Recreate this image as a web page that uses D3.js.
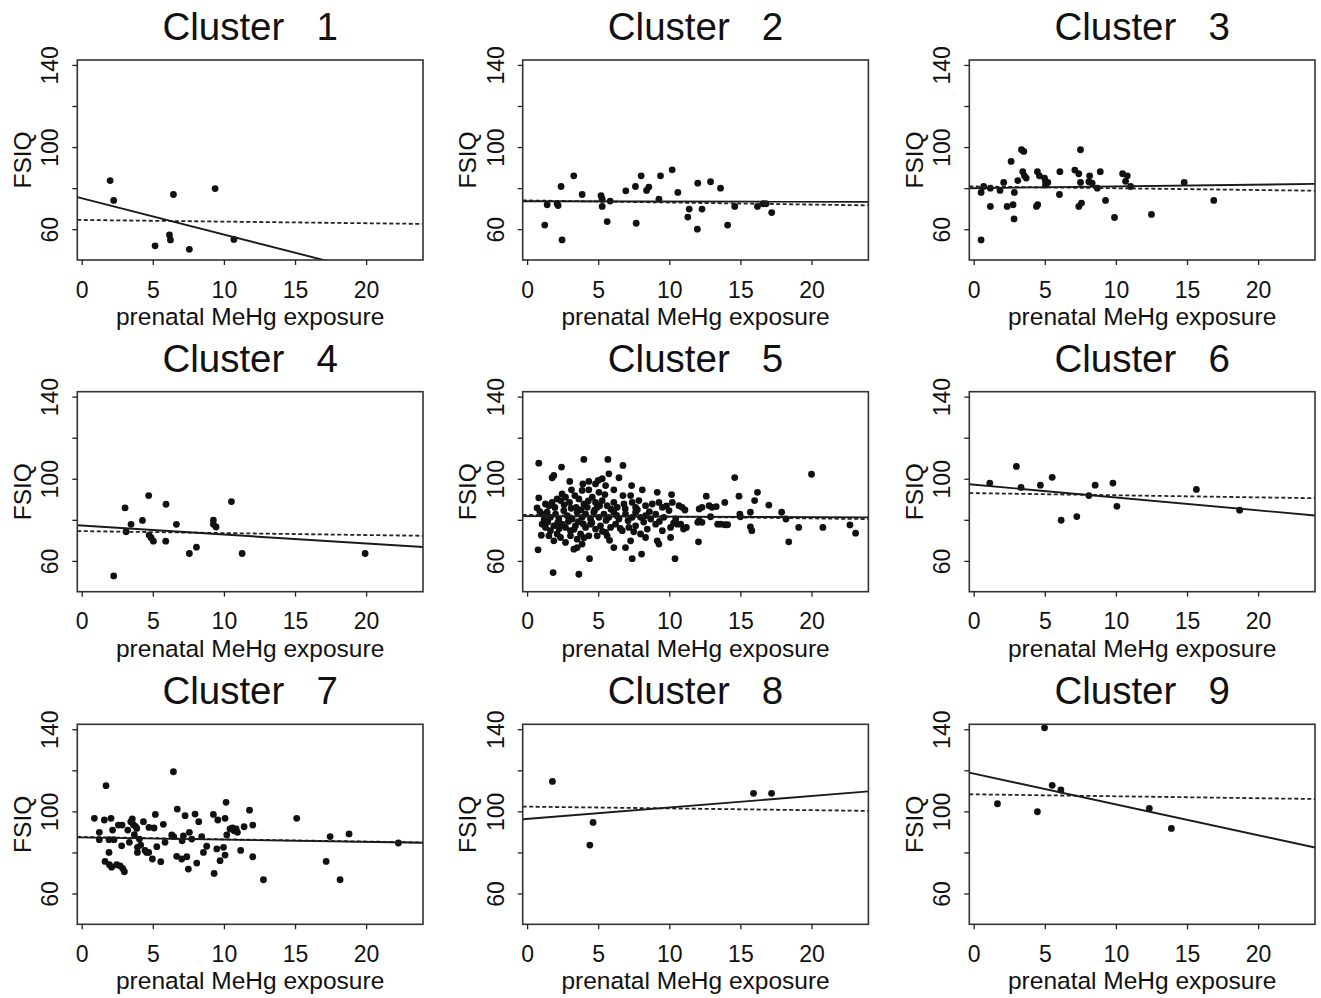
<!DOCTYPE html>
<html>
<head>
<meta charset="utf-8">
<script src="https://cdn.jsdelivr.net/npm/d3@7"></script>
<style>
	body { margin: 0; background: #fff; }
	svg text { font-family: "Liberation Sans", Arial, sans-serif; fill: #111; }
</style>
</head>
<body>
<div id="chart"></div>
<script>

const clusterIds = [1, 2, 3, 4, 5, 6, 7, 8, 9];
const xTicks = [0, 5, 10, 15, 20];
const yTicks = [60, 80, 100, 120, 140];
const yTickLabels = ["60", "", "100", "", "140"]; // R drops 80 and 120, they would overlap
const xTitle = "prenatal MeHg exposure";
const yTitle = "FSIQ";

// [MeHg, FSIQ]
const cluster1 = [[2.0,83.7],[2.25,74.0],[6.45,76.9],[9.38,79.8],[6.17,57.2],[6.24,54.8],[5.16,51.9],[7.57,50.2],[10.7,55.0]];

const cluster2 = [[1.24,62.0],[1.41,71.9],[2.11,72.4],[2.18,71.5],[2.39,80.8],[2.46,54.8],[3.28,86.0],[3.87,76.9],[5.2,76.3],[5.28,74.6],
	[5.28,71.1],[5.63,63.7],[5.84,73.7],[6.94,78.7],[7.62,80.8],[7.67,62.9],[8.02,86.0],[8.4,78.9],[8.56,80.5],[9.27,74.6],
	[9.38,86.0],[10.2,88.9],[10.6,77.9],[11.4,69.8],[11.3,65.9],[12.0,82.4],[11.97,60.0],[12.3,69.8],[12.9,83.1],[13.6,80.0],
	[14.1,62.0],[14.6,71.1],[16.2,71.1],[16.6,72.4],[16.8,72.4],[17.2,68.1]];

const cluster3 = [[0.52,54.8],[0.52,77.9],[0.7,80.8],[1.17,80.0],[1.17,71.1],[1.85,78.9],[2.11,82.8],[2.35,71.1],[2.63,93.0],[2.77,71.9],
	[2.86,77.9],[2.84,65.0],[3.1,83.7],[3.36,98.7],[3.52,97.9],[3.45,88.0],[3.57,86.0],[3.69,84.9],[4.41,71.1],[4.5,71.9],
	[4.48,88.0],[4.62,86.0],[4.98,84.9],[5.05,83.3],[5.05,81.5],[5.21,82.8],[6.03,76.9],[6.06,88.0],[7.11,88.8],[7.39,87.0],
	[7.51,98.7],[7.51,82.8],[7.39,71.1],[7.58,72.7],[8.15,86.0],[8.1,83.1],[8.33,82.4],[8.69,80.0],[8.9,88.0],[9.27,74.0],
	[9.9,65.7],[10.47,87.0],[10.8,86.0],[10.68,83.3],[11.03,80.8],[12.5,67.2],[14.8,82.8],[16.88,74.0]];

const cluster4 = [[2.25,52.7],[3.05,85.8],[3.12,74.2],[3.47,77.8],[4.27,79.7],[4.71,91.8],[4.74,72.6],[4.88,71.3],[5.04,69.6],[5.93,87.6],
	[5.91,69.6],[6.66,77.8],[7.57,63.6],[8.07,66.7],[9.26,79.9],[9.26,77.8],[9.45,76.5],[10.53,88.9],[11.28,63.6],[19.93,63.6]];

const cluster5 = [[0.82,107.6],[2.42,105.7],[3.99,109.4],[5.68,109.4],[6.74,106.5],
	[1.76,100.5],[1.88,101.6],[3.0,98.7],[3.92,97.5],[4.34,98.7],[4.81,97.5],[5.0,99.2],[5.28,100.0],[5.75,102.4],[6.46,100.5],
	[0.82,90.7],[2.46,92.6],[3.12,94.6],[3.36,91.8],[3.87,94.3],[4.34,94.6],[5.05,93.4],[5.52,96.7],[5.47,92.3],[6.1,94.6],
	[6.74,91.8],[7.35,96.7],[8.1,94.6],[9.15,93.4],[10.16,92.3],[7.28,91.8],
	[0.7,85.8],[1.29,87.7],[1.53,86.9],[1.76,88.5],[2.11,90.2],[2.35,89.4],[2.7,91.0],[2.98,88.5],[3.64,90.2],[3.45,86.1],
	[3.99,87.7],[4.23,86.1],[4.58,91.0],[4.81,88.5],[4.93,86.1],[5.28,89.4],[5.63,86.9],[6.1,88.5],[6.34,86.1],[6.81,87.7],
	[7.39,88.5],[7.63,86.1],[7.86,89.4],[8.33,86.9],[8.8,87.7],[9.27,88.5],[9.51,86.1],[10.21,88.5],[10.68,86.9],
	[1.06,82.8],[1.41,83.7],[1.64,81.2],[2.0,82.8],[2.23,80.4],[2.58,84.5],[2.82,82.0],[3.17,80.4],[3.52,83.7],[3.87,81.2],
	[4.11,82.8],[4.46,80.4],[4.69,83.7],[5.05,81.2],[5.4,82.8],[5.75,81.2],[6.1,83.7],[6.46,80.4],[6.92,82.8],[7.39,81.2],
	[7.63,83.7],[7.98,81.2],[8.33,82.0],[8.69,80.4],[9.04,82.8],[9.62,81.2],[9.98,84.5],[10.45,80.4],
	[1.06,77.9],[1.29,76.3],[1.64,74.7],[1.88,77.1],[2.11,73.1],[2.46,77.9],[2.7,76.3],[3.05,74.7],[3.4,77.1],[3.76,73.1],
	[4.11,76.3],[4.46,77.9],[4.81,75.5],[5.16,77.1],[5.52,73.9],[5.87,76.3],[6.22,77.9],[6.69,74.7],[7.16,76.3],[7.63,77.1],
	[7.98,73.1],[8.45,75.5],[9.04,77.9],[9.51,74.7],[10.09,76.3],[10.56,77.9],
	[1.53,72.2],[1.88,69.8],[2.35,71.4],[2.7,69.0],[3.05,72.2],[3.52,70.6],[3.87,68.2],[4.34,72.2],[4.93,72.2],[5.63,72.2],
	[6.1,66.5],[6.92,66.5],[7.28,69.8],[8.33,71.4],[9.15,69.8],[9.27,68.2],[10.09,71.4],[3.29,65.7],[3.52,66.5],[0.77,65.4],
	[4.39,61.1],[7.39,61.1],[8.05,63.3],[10.4,61.1],[1.83,54.3],[3.64,53.5],
	[1.2,80.1],[1.45,79.0],[1.95,86.0],[2.15,78.5],[2.6,87.3],[2.9,79.2],[3.1,85.6],[3.3,75.4],[3.6,79.1],[3.8,84.9],
	[4.0,71.3],[4.3,89.2],[4.55,78.6],[4.75,84.7],[5.1,86.9],[5.3,74.4],[5.55,79.7],[5.9,85.2],[6.3,82.1],[6.55,75.8],
	[6.9,85.4],[7.1,79.6],[7.5,74.2],[7.75,84.9],[8.2,78.9],[8.6,84.0],[9.3,79.2],[9.8,86.8],[10.3,78.4],[2.25,75.6],
	[3.95,78.0],[5.8,70.0],[1.0,72.5],[0.9,84.0],
	[10.9,86.1],[11.1,84.8],[10.8,77.9],[11.0,75.5],[11.2,76.3],[12.05,69.3],[12.0,78.8],[12.1,79.6],[12.3,78.8],[12.1,85.3],
	[12.3,86.1],[12.6,91.5],[12.8,86.9],[12.9,81.5],[13.0,86.1],[13.3,86.4],[13.4,77.9],[13.6,77.9],[13.9,77.6],[14.1,77.6],
	[13.9,88.5],[14.6,100.6],[14.9,91.5],[14.96,82.8],[15.0,81.5],[15.7,83.7],[15.7,76.6],[15.8,74.7],[16.0,89.4],[16.2,93.4],
	[17.0,87.2],[17.9,83.7],[18.2,80.4],[18.4,69.3],[19.1,76.3],[20.0,102.2],[20.8,76.3],[22.7,77.5],[23.1,73.5]];

const cluster6 = [[1.13,97.9],[3.0,106.0],[3.33,95.8],[4.69,96.9],[5.52,100.7],[6.15,79.8],[7.25,81.6],[8.1,91.8],[8.54,96.9],[9.79,97.9],
	[10.07,86.6],[15.66,94.8],[18.7,84.7]];

const cluster7 = [[0.89,96.6],[1.24,89.8],[1.24,86.2],[1.71,112.5],[1.59,95.8],[1.64,75.6],[1.92,86.2],[1.92,80.0],[1.95,74.0],[2.1,72.8],
	[2.06,96.6],[2.17,90.9],[2.27,86.2],[2.46,74.0],[2.58,93.3],[2.7,73.5],[2.81,83.2],[2.84,93.3],[2.88,72.2],[3.0,70.6],
	[3.24,90.9],[3.35,84.9],[3.45,95.0],[3.56,96.3],[3.63,93.5],[3.7,88.6],[3.78,92.7],[3.87,91.7],[3.92,80.0],[3.92,82.5],
	[4.06,86.5],[4.15,83.6],[4.34,95.0],[4.45,81.0],[4.57,80.0],[4.71,80.0],[4.73,92.2],[4.97,76.8],[5.09,91.9],[5.18,98.5],
	[5.28,82.8],[5.56,75.5],[5.74,93.7],[5.86,84.9],[6.33,88.5],[6.45,119.3],[6.47,87.7],[6.72,101.1],[6.68,78.1],[7.03,76.8],
	[7.06,85.7],[7.15,88.1],[7.27,97.9],[7.39,77.9],[7.5,71.9],[7.57,89.8],[7.74,86.5],[7.97,98.7],[8.09,74.8],[8.23,95.0],
	[8.44,87.7],[8.56,80.0],[8.79,83.0],[9.26,98.5],[9.31,69.8],[9.5,81.7],[9.57,95.8],[9.73,76.0],[9.97,82.5],[10.08,96.6],
	[10.08,78.7],[10.15,104.4],[10.2,88.5],[10.43,91.4],[10.6,91.9],[10.72,90.6],[10.86,91.4],[10.95,89.8],[11.18,81.0],[11.42,92.5],
	[11.8,100.6],[12.03,93.3],[12.03,77.9],[12.78,66.7],[15.12,96.6],[17.19,75.6],[17.47,87.7],[18.17,66.7],[18.8,89.0],[22.27,84.6]];

const cluster8 = [[1.78,114.6],[4.41,83.6],[4.64,94.6],[15.92,108.8],[17.19,108.8]];

const cluster9 = [[1.67,103.7],[4.48,99.8],[4.98,140.7],[5.52,112.7],[6.13,110.4],[12.35,101.5],[13.9,91.7]];

// fitted lines, FSIQ = intercept + slope * MeHg
const solidIntercept = [75.1, 73.6, 80.0, 77.2, 81.8, 97.15, 87.3, 96.3, 118.4];
const solidSlope = [-1.77, -0.01, 0.086, -0.436, -0.025, -0.626, -0.107, 0.559, -1.5];
const dashedIntercept = [64.5, 74.0, 80.8, 74.5, 82.4, 93.0, 87.5, 102.3, 108.3];
const dashedSlope = [-0.08, -0.10, -0.086, -0.095, -0.085, -0.103, -0.11, -0.086, -0.095];

const clusterPoints = [cluster1, cluster2, cluster3, cluster4, cluster5, cluster6, cluster7, cluster8, cluster9];


const frame = { width: 1321, height: 998 };
const panel = { width: 345.7, height: 200 };
const colLeft = [77.3, 522.7, 969.3];
const rowTop = [60, 391.7, 724.3];

const x = d3.scaleLinear().domain([-0.31, 24.0]).range([0, panel.width]);
const y = d3.scaleLinear().domain([45.0, 142.4]).range([panel.height, 0]);

const svg = d3.select("#chart")
	.append("svg")
	.attr("width", frame.width)
	.attr("height", frame.height)
	.style("background", "#fff");

function fittedLine(a, b){
	let [x0, x1] = x.domain();
	return [[x0, a + b * x0], [x1, a + b * x1]];
}

const line = d3.line()
	.x(d => x(d[0]))
	.y(d => y(d[1]));

clusterIds.forEach((id, i) => {
	let g = svg.append("g")
		.attr("transform", `translate(${colLeft[i % 3]},${rowTop[Math.floor(i / 3)]})`);

	g.append("clipPath")
		.attr("id", "clip" + i)
		.append("rect")
		.attr("width", panel.width)
		.attr("height", panel.height);

	let plot = g.append("g").attr("clip-path", `url(#clip${i})`);

	plot.selectAll("circle")
		.data(clusterPoints[i])
		.enter()
		.append("circle")
		.attr("cx", d => x(d[0]))
		.attr("cy", d => y(d[1]))
		.attr("r", 3.4)
		.attr("fill", "#111");

	plot.append("path")
		.attr("d", line(fittedLine(dashedIntercept[i], dashedSlope[i])))
		.attr("fill", "none")
		.attr("stroke", "#222")
		.attr("stroke-width", 1.8)
		.attr("stroke-dasharray", "4,2.5");

	plot.append("path")
		.attr("d", line(fittedLine(solidIntercept[i], solidSlope[i])))
		.attr("fill", "none")
		.attr("stroke", "#1a1a1a")
		.attr("stroke-width", 1.9);

	g.append("rect")
		.attr("width", panel.width)
		.attr("height", panel.height)
		.attr("fill", "none")
		.attr("stroke", "#333")
		.attr("stroke-width", 1.6);

	g.append("g")
		.attr("transform", `translate(0,${panel.height})`)
		.style("color", "#222")
		.call(d3.axisBottom(x).tickValues(xTicks).tickSize(5).tickSizeOuter(0))
		.call(a => a.select(".domain").remove())
		.call(a => a.selectAll("line").attr("stroke-width", 1.3))
		.call(a => a.selectAll("text")
			.attr("dy", null)
			.attr("y", 37.7)
			.style("font-size", "23px"));

	g.append("g")
		.style("color", "#222")
		.call(d3.axisLeft(y).tickValues(yTicks).tickFormat((d, k) => yTickLabels[k]).tickSize(5).tickSizeOuter(0))
		.call(a => a.select(".domain").remove())
		.call(a => a.selectAll("line").attr("stroke-width", 1.3))
		.call(a => a.selectAll("text")
			.attr("x", null)
			.attr("dy", null)
			.attr("text-anchor", "middle")
			.attr("transform", "translate(-19,0) rotate(-90)")
			.style("font-size", "23px"));

	g.append("text")
		.attr("x", panel.width / 2)
		.attr("y", -20)
		.attr("text-anchor", "middle")
		.style("font-size", "38.5px")
		.style("white-space", "pre")
		.text("Cluster   " + id);

	g.append("text")
		.attr("x", panel.width / 2)
		.attr("y", panel.height + 65)
		.attr("text-anchor", "middle")
		.style("font-size", "24.5px")
		.text(xTitle);

	g.append("text")
		.attr("transform", `translate(-46.6,${panel.height / 2}) rotate(-90)`)
		.attr("text-anchor", "middle")
		.style("font-size", "24.5px")
		.text(yTitle);
});

</script>
</body>
</html>
